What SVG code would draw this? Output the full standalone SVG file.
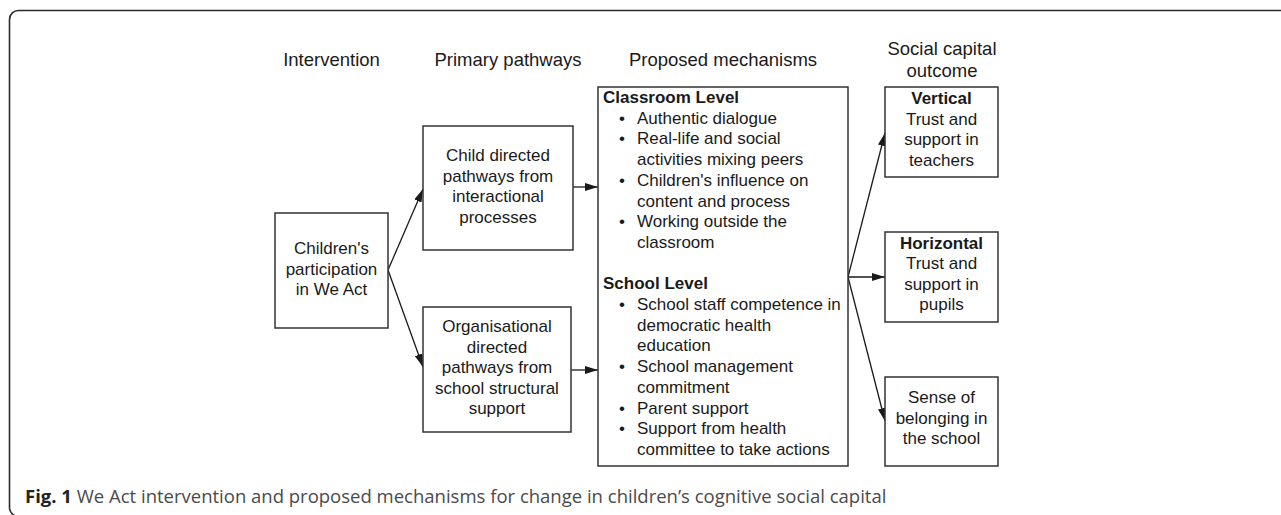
<svg xmlns="http://www.w3.org/2000/svg" width="1281" height="515" viewBox="0 0 1281 515">
<style>
.frame{fill:none;stroke:#2b2b2b;stroke-width:1.6}
.box{fill:#fff;stroke:#333;stroke-width:1.5}
.t{font-family:"Liberation Sans",Arial,sans-serif;font-size:17px;fill:#1a1a1a}
.h{font-family:"Liberation Sans",Arial,sans-serif;font-size:18.5px;fill:#1a1a1a;text-anchor:middle}
.c{text-anchor:middle}
.b{font-weight:bold}
.edge{fill:none;stroke:#1a1a1a;stroke-width:1.3}
.cap{font-family:"Open Sans","Liberation Sans",sans-serif;font-size:18.5px;fill:#4a4a4a}
</style>
<defs>
<marker id="arr" viewBox="0 0 13 8" refX="13" refY="4" markerWidth="13" markerHeight="8" markerUnits="userSpaceOnUse" orient="auto">
<path d="M0,0 L13,4 L0,8 z" fill="#1a1a1a"/>
</marker>
</defs>
<rect class="frame" x="9.5" y="10.5" width="1290" height="506" rx="9"/>

<g id="headers">
<text class="h" x="331.5" y="66">Intervention</text>
<text class="h" x="508" y="66">Primary pathways</text>
<text class="h" x="723" y="66">Proposed mechanisms</text>
<text class="h" x="942" y="55">Social capital</text>
<text class="h" x="942" y="77">outcome</text>
</g>

<g id="connectors">
<line class="edge" x1="388" y1="270" x2="423" y2="189" marker-end="url(#arr)"/>
<line class="edge" x1="388" y1="270" x2="423" y2="367" marker-end="url(#arr)"/>
<line class="edge" x1="573" y1="187" x2="598" y2="187" marker-end="url(#arr)"/>
<line class="edge" x1="571" y1="370" x2="598" y2="370" marker-end="url(#arr)"/>
<line class="edge" x1="848" y1="277" x2="885" y2="133" marker-end="url(#arr)"/>
<line class="edge" x1="848" y1="277" x2="885" y2="277" marker-end="url(#arr)"/>
<line class="edge" x1="848" y1="277" x2="885" y2="421" marker-end="url(#arr)"/>
</g>

<g id="children">
<rect class="box" x="275" y="213" width="113" height="115"/>
<text class="t c" x="331.5" y="254">Children's</text>
<text class="t c" x="331.5" y="274.5">participation</text>
<text class="t c" x="331.5" y="295">in We Act</text>
</g>

<g id="child-directed">
<rect class="box" x="423" y="126" width="150" height="124"/>
<text class="t c" x="498" y="161">Child directed</text>
<text class="t c" x="498" y="181.5">pathways from</text>
<text class="t c" x="498" y="202">interactional</text>
<text class="t c" x="498" y="222.5">processes</text>
</g>

<g id="organisational">
<rect class="box" x="423" y="307" width="148" height="125"/>
<text class="t c" x="497" y="332">Organisational</text>
<text class="t c" x="497" y="352.5">directed</text>
<text class="t c" x="497" y="373">pathways from</text>
<text class="t c" x="497" y="393.5">school structural</text>
<text class="t c" x="497" y="414">support</text>
</g>

<g id="mechanisms">
<rect class="box" x="598" y="87" width="250" height="379"/>
<text class="t b" x="603" y="103">Classroom Level</text>
<g class="t">
<text x="619" y="123.7">•</text><text x="637" y="123.7">Authentic dialogue</text>
<text x="619" y="144.4">•</text><text x="637" y="144.4">Real-life and social</text>
<text x="637" y="165.1">activities mixing peers</text>
<text x="619" y="185.8">•</text><text x="637" y="185.8">Children's influence on</text>
<text x="637" y="206.5">content and process</text>
<text x="619" y="227.2">•</text><text x="637" y="227.2">Working outside the</text>
<text x="637" y="247.9">classroom</text>
</g>
<text class="t b" x="603" y="289.3">School Level</text>
<g class="t">
<text x="619" y="310">•</text><text x="637" y="310">School staff competence in</text>
<text x="637" y="330.7">democratic health</text>
<text x="637" y="351.4">education</text>
<text x="619" y="372.1">•</text><text x="637" y="372.1">School management</text>
<text x="637" y="392.8">commitment</text>
<text x="619" y="413.5">•</text><text x="637" y="413.5">Parent support</text>
<text x="619" y="434.2">•</text><text x="637" y="434.2">Support from health</text>
<text x="637" y="454.9">committee to take actions</text>
</g>
</g>

<g id="vertical">
<rect class="box" x="885" y="87" width="113" height="90"/>
<text class="t c b" x="941.5" y="104">Vertical</text>
<text class="t c" x="941.5" y="124.5">Trust and</text>
<text class="t c" x="941.5" y="145">support in</text>
<text class="t c" x="941.5" y="165.5">teachers</text>
</g>

<g id="horizontal">
<rect class="box" x="885" y="232" width="113" height="90"/>
<text class="t c b" x="941.5" y="248.5">Horizontal</text>
<text class="t c" x="941.5" y="269">Trust and</text>
<text class="t c" x="941.5" y="289.5">support in</text>
<text class="t c" x="941.5" y="310">pupils</text>
</g>

<g id="belonging">
<rect class="box" x="885" y="377" width="113" height="89"/>
<text class="t c" x="941.5" y="403">Sense of</text>
<text class="t c" x="941.5" y="423.5">belonging in</text>
<text class="t c" x="941.5" y="444">the school</text>
</g>

<text class="cap" x="25" y="503"><tspan font-weight="bold" fill="#222">Fig. 1</tspan> We Act intervention and proposed mechanisms for change in children’s cognitive social capital</text>
</svg>
